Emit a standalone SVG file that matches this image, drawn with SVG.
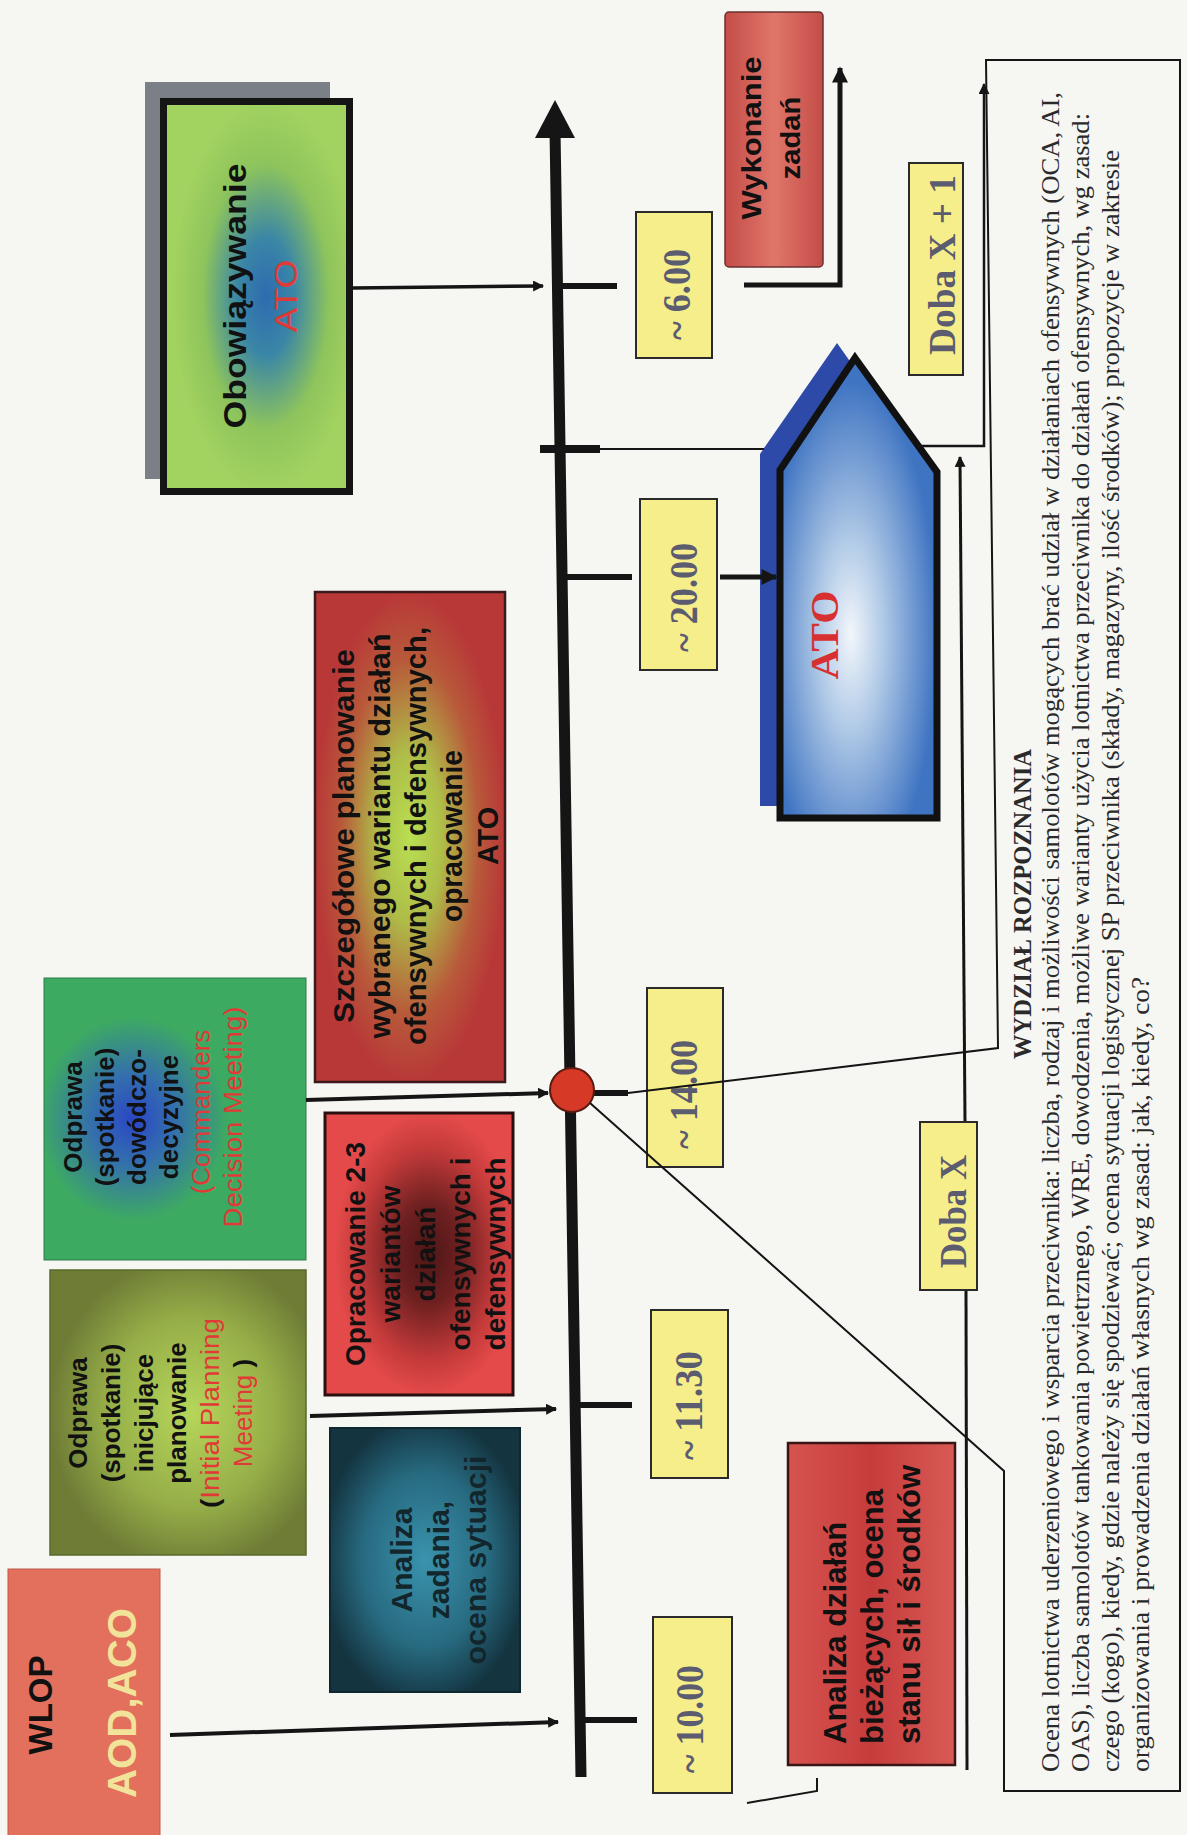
<svg xmlns="http://www.w3.org/2000/svg" width="1187" height="1835" viewBox="0 0 1187 1835">
<defs>
<style>
.lb{font-family:"Liberation Sans",Arial,sans-serif;font-weight:bold;fill:#111}
.ls{font-family:"Liberation Sans",Arial,sans-serif;font-weight:normal}
.tm{font-family:"Liberation Serif","Times New Roman",serif}
.yb{fill:#f6ee8a;stroke:#2a2a2a;stroke-width:2}
.yt{font-family:"Liberation Serif","Times New Roman",serif;font-size:40px;font-weight:bold;fill:#5c5c70}
.ct{font-family:"Liberation Serif","Times New Roman",serif;font-size:25px;fill:#2a2a2a}
.ln{fill:none;stroke:#151515;stroke-linecap:butt}
.red{fill:#e03a36}
</style>
<marker id="ah" viewBox="0 0 10 10" refX="9" refY="5" markerWidth="15" markerHeight="11" markerUnits="userSpaceOnUse" orient="auto"><path d="M0,0 L10,5 L0,10 z" fill="#151515"/></marker>
<marker id="ahb" viewBox="0 0 10 10" refX="9" refY="5" markerWidth="17" markerHeight="16" markerUnits="userSpaceOnUse" orient="auto"><path d="M0,0 L10,5 L0,10 z" fill="#151515"/></marker>
<radialGradient id="gObow" cx="0.55" cy="0.5" r="0.5"><stop offset="0" stop-color="#2d6bb0"/><stop offset="0.3" stop-color="#3a86a6"/><stop offset="0.68" stop-color="#8ec45c"/><stop offset="1" stop-color="#a2d260"/></radialGradient>
<linearGradient id="gWyk" x1="0" y1="0" x2="1" y2="0"><stop offset="0" stop-color="#c44c48"/><stop offset="0.5" stop-color="#e0766a"/><stop offset="1" stop-color="#c44c48"/></linearGradient>
<radialGradient id="gSzcz" cx="0.5" cy="0.5" r="0.5"><stop offset="0" stop-color="#b8e052"/><stop offset="0.35" stop-color="#aebc48"/><stop offset="0.72" stop-color="#b85a3a"/><stop offset="1" stop-color="#b83838"/></radialGradient>
<radialGradient id="gCDM" cx="0.34" cy="0.5" r="0.36"><stop offset="0" stop-color="#2a46c6"/><stop offset="0.45" stop-color="#3470ac"/><stop offset="1" stop-color="#3daa62"/></radialGradient>
<radialGradient id="gIPM" cx="0.55" cy="0.5" r="0.55"><stop offset="0" stop-color="#b6d65a"/><stop offset="0.6" stop-color="#96ae48"/><stop offset="1" stop-color="#6e7c36"/></radialGradient>
<radialGradient id="gOpr" cx="0.55" cy="0.5" r="0.5"><stop offset="0" stop-color="#4e1616"/><stop offset="0.35" stop-color="#6e2020"/><stop offset="0.75" stop-color="#c43a3a"/><stop offset="1" stop-color="#e44a4a"/></radialGradient>
<radialGradient id="gAz" cx="0.5" cy="0.5" r="0.55"><stop offset="0" stop-color="#3a93ad"/><stop offset="0.6" stop-color="#276a80"/><stop offset="1" stop-color="#143440"/></radialGradient>
<linearGradient id="gAd" x1="0" y1="0" x2="1" y2="0"><stop offset="0" stop-color="#d65450"/><stop offset="0.5" stop-color="#c63c3c"/><stop offset="1" stop-color="#d85a55"/></linearGradient>
<radialGradient id="gATO" cx="0.45" cy="0.6" r="0.55"><stop offset="0" stop-color="#f2f6fb"/><stop offset="0.35" stop-color="#b5cde8"/><stop offset="1" stop-color="#3f74c2"/></radialGradient>
</defs>
<rect x="0" y="0" width="1187" height="1835" fill="#f6f6f3"/>

<g id="obowiazywanie">
<rect x="145" y="82" width="185" height="397" fill="#7b7f86"/>
<rect x="163.5" y="101.5" width="186" height="390" fill="url(#gObow)" stroke="#151515" stroke-width="7"/>
<text class="lb" font-size="31" transform="translate(246 296) rotate(-90)" text-anchor="middle" textLength="265" lengthAdjust="spacingAndGlyphs">Obowiązywanie</text>
<text class="ls red" font-size="31" transform="translate(297 296) rotate(-90)" text-anchor="middle" textLength="73" lengthAdjust="spacingAndGlyphs">ATO</text>
</g>

<g id="wykonanie">
<rect x="725" y="12" width="98" height="255" rx="4" fill="url(#gWyk)" stroke="#6a3030" stroke-width="1.5"/>
<text class="lb" font-size="27" transform="translate(761 138) rotate(-90)" text-anchor="middle" textLength="163" lengthAdjust="spacingAndGlyphs">Wykonanie</text>
<text class="lb" font-size="27" transform="translate(800 138) rotate(-90)" text-anchor="middle" textLength="83" lengthAdjust="spacingAndGlyphs">zadań</text>
</g>

<g id="szczegolowe">
<rect x="315" y="592" width="190" height="490" fill="url(#gSzcz)" stroke="#3a1a1a" stroke-width="2.5"/>
<text class="lb" font-size="30" transform="translate(354 836) rotate(-90)" text-anchor="middle" textLength="374" lengthAdjust="spacingAndGlyphs">Szczegółowe planowanie</text>
<text class="lb" font-size="30" transform="translate(390 836) rotate(-90)" text-anchor="middle" textLength="405" lengthAdjust="spacingAndGlyphs">wybranego wariantu działań</text>
<text class="lb" font-size="30" transform="translate(426 836) rotate(-90)" text-anchor="middle" textLength="418" lengthAdjust="spacingAndGlyphs">ofensywnych i defensywnych,</text>
<text class="lb" font-size="30" transform="translate(462 836) rotate(-90)" text-anchor="middle" textLength="172" lengthAdjust="spacingAndGlyphs">opracowanie</text>
<text class="lb" font-size="30" transform="translate(498 836) rotate(-90)" text-anchor="middle" textLength="58" lengthAdjust="spacingAndGlyphs">ATO</text>
</g>

<g id="odprawa-cdm">
<rect x="44" y="978" width="262" height="282" fill="url(#gCDM)" stroke="#2e7a48" stroke-width="1"/>
<text class="lb" font-size="26" transform="translate(82 1117) rotate(-90)" text-anchor="middle">Odprawa</text>
<text class="lb" font-size="26" transform="translate(114 1117) rotate(-90)" text-anchor="middle">(spotkanie)</text>
<text class="lb" font-size="26" transform="translate(146 1117) rotate(-90)" text-anchor="middle">dowódczo-</text>
<text class="lb" font-size="26" transform="translate(178 1117) rotate(-90)" text-anchor="middle">decyzyjne</text>
<text class="ls red" font-size="26" transform="translate(210 1112) rotate(-90)" text-anchor="middle">(Commanders</text>
<text class="ls red" font-size="26" transform="translate(242 1117) rotate(-90)" text-anchor="middle" textLength="221" lengthAdjust="spacingAndGlyphs">Decision Meeting)</text>
</g>

<g id="odprawa-ipm">
<rect x="50" y="1270" width="256" height="285" fill="url(#gIPM)" stroke="#5a6a2a" stroke-width="1.5"/>
<text class="lb" font-size="26" transform="translate(87 1413) rotate(-90)" text-anchor="middle">Odprawa</text>
<text class="lb" font-size="26" transform="translate(120 1413) rotate(-90)" text-anchor="middle">(spotkanie)</text>
<text class="lb" font-size="26" transform="translate(153 1413) rotate(-90)" text-anchor="middle">inicjujące</text>
<text class="lb" font-size="26" transform="translate(186 1413) rotate(-90)" text-anchor="middle">planowanie</text>
<text class="lb" font-size="26" transform="translate(219 1413) rotate(-90)" text-anchor="middle" textLength="190" lengthAdjust="spacingAndGlyphs">(<tspan class="ls red">Initial Planning</tspan></text>
<text class="lb" font-size="26" transform="translate(252 1413) rotate(-90)" text-anchor="middle"><tspan class="ls red">Meeting</tspan> )</text>
</g>

<g id="opracowanie">
<rect x="325" y="1113" width="188" height="282" fill="url(#gOpr)" stroke="#2a0f0f" stroke-width="3"/>
<text class="lb" font-size="28" transform="translate(365 1254) rotate(-90)" text-anchor="middle">Opracowanie 2-3</text>
<text class="lb" font-size="28" transform="translate(400 1254) rotate(-90)" text-anchor="middle">wariantów</text>
<text class="lb" font-size="28" transform="translate(435 1254) rotate(-90)" text-anchor="middle">działań</text>
<text class="lb" font-size="28" transform="translate(470 1254) rotate(-90)" text-anchor="middle">ofensywnych i</text>
<text class="lb" font-size="28" transform="translate(505 1254) rotate(-90)" text-anchor="middle">defensywnych</text>
</g>

<g id="analiza-zadania">
<rect x="330" y="1428" width="190" height="264" fill="url(#gAz)" stroke="#0f2830" stroke-width="2"/>
<text class="lb" font-size="30" transform="translate(412 1560) rotate(-90)" text-anchor="middle" style="fill:#13262c">Analiza</text>
<text class="lb" font-size="30" transform="translate(449 1560) rotate(-90)" text-anchor="middle" style="fill:#13262c">zadania,</text>
<text class="lb" font-size="30" transform="translate(486 1560) rotate(-90)" text-anchor="middle" textLength="209" lengthAdjust="spacingAndGlyphs" style="fill:#13262c">ocena sytuacji</text>
</g>

<g id="analiza-dzialan">
<rect x="788" y="1443" width="167" height="322" fill="url(#gAd)" stroke="#3a1515" stroke-width="2.5"/>
<text class="lb" font-size="31" transform="translate(846 1744) rotate(-90)">Analiza działań</text>
<text class="lb" font-size="31" transform="translate(883 1744) rotate(-90)">bieżących, ocena</text>
<text class="lb" font-size="31" transform="translate(920 1744) rotate(-90)">stanu sił i środków</text>
</g>

<g id="wlop">
<rect x="8" y="1569" width="152" height="280" fill="#e36f5d" stroke="#c05a4a" stroke-width="1"/>
<text class="lb" font-size="33" transform="translate(52 1705) rotate(-90)" text-anchor="middle">WLOP</text>
<text class="lb" font-size="40" transform="translate(136 1703) rotate(-90)" text-anchor="middle" textLength="190" lengthAdjust="spacingAndGlyphs" style="fill:#f2e39a">AOD,ACO</text>
</g>

<g id="ato">
<polygon points="837,343 917,456 917,806 760,806 760,454" fill="#2e4aa8"/>
<polygon points="855,358 937,472 937,818 780,818 780,470" fill="url(#gATO)" stroke="#111" stroke-width="7"/>
<text class="tm" font-size="41" font-weight="bold" fill="#d83030" transform="translate(838 635) rotate(-90)" text-anchor="middle" textLength="89" lengthAdjust="spacingAndGlyphs">ATO</text>
</g>

<g id="t-6-00"><rect class="yb" x="636" y="212" width="76" height="146"/><text class="yt" transform="translate(690 340) rotate(-90)" textLength="91" lengthAdjust="spacingAndGlyphs">~ 6.00</text></g>
<g id="t-20-00"><rect class="yb" x="640" y="499" width="77" height="171"/><text class="yt" transform="translate(697 652) rotate(-90)" textLength="109" lengthAdjust="spacingAndGlyphs">~ 20.00</text></g>
<g id="t-14-00"><rect class="yb" x="647" y="988" width="76" height="179"/><text class="yt" transform="translate(697 1149) rotate(-90)" textLength="109" lengthAdjust="spacingAndGlyphs">~ 14.00</text></g>
<g id="t-11-30"><rect class="yb" x="651" y="1310" width="77" height="168"/><text class="yt" transform="translate(702 1460) rotate(-90)" textLength="109" lengthAdjust="spacingAndGlyphs">~ 11.30</text></g>
<g id="t-10-00"><rect class="yb" x="653" y="1617" width="79" height="176"/><text class="yt" transform="translate(703 1773) rotate(-90)" textLength="108" lengthAdjust="spacingAndGlyphs">~ 10.00</text></g>
<g id="doba-x1"><rect class="yb" x="909" y="163" width="54" height="212"/><text class="yt" style="font-size:38px" transform="translate(955 355) rotate(-90)" textLength="180" lengthAdjust="spacingAndGlyphs">Doba X + 1</text></g>
<g id="doba-x"><rect class="yb" x="920" y="1122" width="57" height="168"/><text class="yt" style="font-size:38px" transform="translate(966 1268) rotate(-90)" textLength="113" lengthAdjust="spacingAndGlyphs">Doba X</text></g>

<g id="connectors">
<line class="ln" x1="555" y1="130" x2="581" y2="1777" stroke-width="11"/>
<polygon points="555,100 535,138 575,138" fill="#151515"/>
<line class="ln" x1="353" y1="288" x2="543" y2="286" stroke-width="3.5" marker-end="url(#ah)"/>
<line class="ln" x1="306" y1="1100" x2="548" y2="1093" stroke-width="4" marker-end="url(#ah)"/>
<line class="ln" x1="310" y1="1416" x2="556" y2="1409" stroke-width="4" marker-end="url(#ah)"/>
<line class="ln" x1="170" y1="1735" x2="558" y2="1722" stroke-width="4" marker-end="url(#ah)"/>
<line class="ln" x1="557" y1="286" x2="617" y2="286" stroke-width="6"/>
<line class="ln" x1="540" y1="449" x2="600" y2="449" stroke-width="8"/>
<line class="ln" x1="600" y1="449" x2="764" y2="449" stroke-width="2"/>
<line class="ln" x1="562" y1="577" x2="632" y2="577" stroke-width="6"/>
<line class="ln" x1="573" y1="1405" x2="632" y2="1405" stroke-width="6"/>
<line class="ln" x1="579" y1="1720" x2="637" y2="1720" stroke-width="6"/>
<line class="ln" x1="720" y1="577" x2="776" y2="577" stroke-width="5" marker-end="url(#ahb)"/>
<polyline class="ln" points="744,285 840,285 840,68" stroke-width="5" marker-end="url(#ahb)"/>
<polyline class="ln" points="918,446 984,446 984,84" stroke-width="2.5" marker-end="url(#ah)"/>
<line class="ln" x1="967" y1="1770" x2="966" y2="1291" stroke-width="3"/>
<line class="ln" x1="965" y1="1121" x2="960" y2="457" stroke-width="3" marker-end="url(#ah)"/>
<polyline class="ln" points="747,1803 817,1791 817,1778" stroke-width="2"/>
</g>

<g id="punkt-14">
<line class="ln" x1="594" y1="1093" x2="628" y2="1093" stroke-width="6"/>
<circle cx="572" cy="1090" r="22" fill="#d63a26" stroke="#5a1a10" stroke-width="2"/>
</g>

<g id="wydzial-rozpoznania">
<path class="ln" d="M628,1093 L998,1048 L986,60 L1180,60 L1180,1791 L1004,1791 L1004,1471 L590,1103" stroke-width="2"/>
<text class="ct" font-weight="bold" transform="translate(1031 1059) rotate(-90)" textLength="310" lengthAdjust="spacingAndGlyphs">WYDZIAŁ ROZPOZNANIA</text>
<text class="ct" transform="translate(1059 1772) rotate(-90)" textLength="1680" lengthAdjust="spacingAndGlyphs">Ocena lotnictwa uderzeniowego i wsparcia przeciwnika: liczba, rodzaj i możliwości samolotów mogących brać udział w działaniach ofensywnych (OCA, AI,</text>
<text class="ct" transform="translate(1089 1772) rotate(-90)" textLength="1659" lengthAdjust="spacingAndGlyphs">OAS), liczba samolotów tankowania powietrznego, WRE, dowodzenia, możliwe warianty użycia lotnictwa przeciwnika do działań ofensywnych, wg zasad:</text>
<text class="ct" transform="translate(1119 1772) rotate(-90)" textLength="1622" lengthAdjust="spacingAndGlyphs">czego (kogo), kiedy, gdzie należy się spodziewać; ocena sytuacji logistycznej SP przeciwnika (składy, magazyny, ilość środków); propozycje w zakresie</text>
<text class="ct" transform="translate(1149 1772) rotate(-90)" textLength="795" lengthAdjust="spacingAndGlyphs">organizowania i prowadzenia działań własnych wg zasad: jak, kiedy, co?</text>
</g>
</svg>
